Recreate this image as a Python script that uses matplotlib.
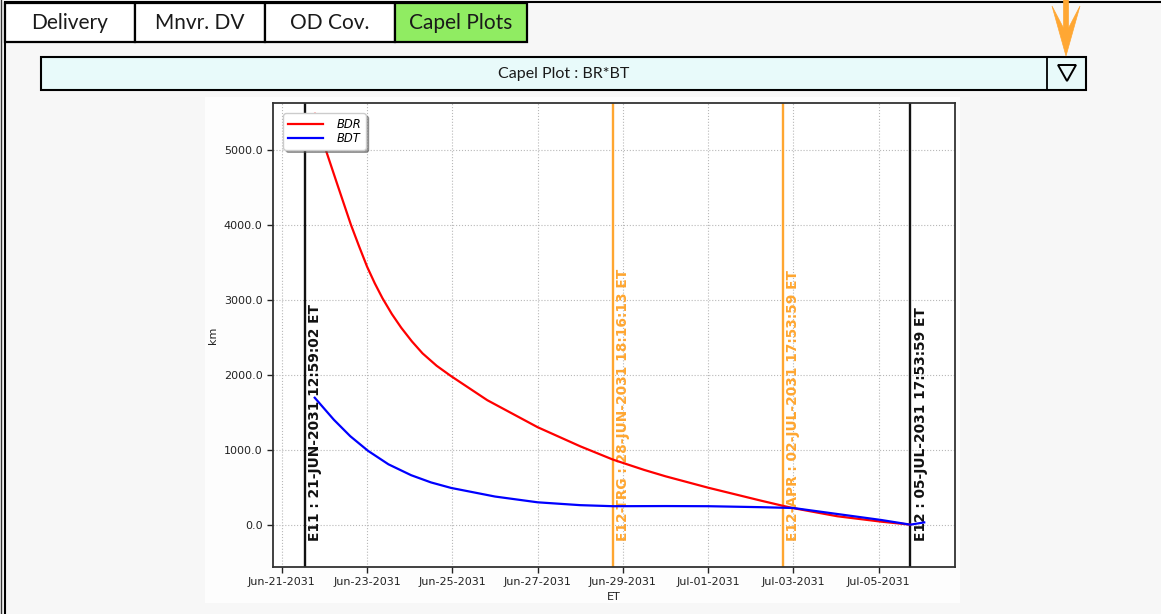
import matplotlib
matplotlib.use("Agg")
import matplotlib.pyplot as plt
import matplotlib.dates as mdates
import matplotlib.patches as mpatches
import matplotlib.lines as mlines
import matplotlib.transforms as mtransforms
import matplotlib.ticker as mticker
import pandas as pd

W, H = 1161, 614

# ---------------- data ----------------
tab_labels = ["Delivery", "Mnvr. DV", "OD Cov.", "Capel Plots"]
selector_title = "Capel Plot : BR*BT"

bdr_times = ["2031-06-21 18:29", "2031-06-22 00:43", "2031-06-22 07:12", "2031-06-22 14:53",
             "2031-06-22 19:26", "2031-06-23 00:00", "2031-06-23 04:19", "2031-06-23 08:38",
             "2031-06-23 13:55", "2031-06-23 19:12", "2031-06-24 01:12", "2031-06-24 07:12",
             "2031-06-24 15:07", "2031-06-24 23:02", "2031-06-25 19:41", "2031-06-27 00:00",
             "2031-06-28 00:00", "2031-06-28 18:29", "2031-06-29 12:00", "2031-06-30 00:00",
             "2031-07-01 00:00", "2031-07-02 05:46", "2031-07-02 17:46", "2031-07-03 00:00",
             "2031-07-04 00:43", "2031-07-05 01:26", "2031-07-05 17:53"]
bdr_values = [5480, 5000, 4540, 4000, 3715, 3440, 3219, 3021, 2810, 2627, 2445, 2285,
              2120, 1985, 1660, 1300, 1045, 867, 730, 645, 493, 320, 253, 220,
              112, 40, 0]

bdt_times = ["2031-06-21 18:30", "2031-06-22 05:15", "2031-06-22 14:30", "2031-06-23 00:30",
             "2031-06-23 12:00", "2031-06-24 00:45", "2031-06-24 12:00", "2031-06-24 23:15",
             "2031-06-26 00:00", "2031-06-27 00:00", "2031-06-28 00:00", "2031-06-28 18:30",
             "2031-06-30 00:00", "2031-07-01 00:00", "2031-07-02 05:45", "2031-07-03 00:00",
             "2031-07-04 00:45", "2031-07-05 01:30", "2031-07-05 17:53", "2031-07-06 01:40"]
bdt_values = [1693, 1400, 1180, 985, 805, 660, 563, 490, 375, 298, 260, 246,
              248, 246, 233, 222, 142, 62, 0, 30]

event_times = ["2031-06-21 12:59:02", "2031-06-28 18:16:13",
               "2031-07-02 17:53:59", "2031-07-05 17:53:59"]
event_labels = ["E11 : 21-JUN-2031 12:59:02 ET", "E12-TRG : 28-JUN-2031 18:16:13 ET",
                "E12-APR : 02-JUL-2031 17:53:59 ET", "E12 : 05-JUL-2031 17:53:59 ET"]
event_colors = ["#111111", "#ffa630", "#ffa630", "#111111"]

x_tick_dates = ["2031-06-21", "2031-06-23", "2031-06-25", "2031-06-27",
                "2031-06-29", "2031-07-01", "2031-07-03", "2031-07-05"]
y_tick_values = [0, 1000, 2000, 3000, 4000, 5000]
x_limits = ["2031-06-20 19:00", "2031-07-06 19:00"]
y_limits = [-565, 5625]

# ---------------- figure / UI ----------------
fig = plt.figure(figsize=(W / 100, H / 100), dpi=100, facecolor="#f7f7f7")


def fx(x):
    return x / W


def fy(y):
    return 1 - y / H


def rect(x0, y0, x1, y1, fc, ec="black", lw=1.5, z=1):
    r = mpatches.Rectangle((fx(x0), fy(y1)), fx(x1) - fx(x0), fy(y0) - fy(y1),
                           transform=fig.transFigure, facecolor=fc, edgecolor=ec,
                           linewidth=lw, zorder=z)
    fig.add_artist(r)
    return r


def poly(pts, fc, ec, lw=1.5, z=3, closed=True):
    p = mpatches.Polygon([(fx(a), fy(b)) for a, b in pts], closed=closed,
                         transform=fig.transFigure, facecolor=fc, edgecolor=ec,
                         linewidth=lw, zorder=z)
    fig.add_artist(p)


# chart image background (below the axes)
rect(205, 97, 960, 603, "#fdfdfd", ec="none", lw=0, z=-2)

# outer panel frame (top + left visible)
rect(5, 2, 1200, 700, "none", lw=1.5, z=2)
fig.add_artist(mlines.Line2D([fx(1), fx(1)], [0, 1], transform=fig.transFigure,
                             color="#333333", lw=1.0))

# tabs
tab_edges = [5, 135, 265, 395, 527]
for i, lab in enumerate(tab_labels):
    fc = "#90ec62" if i == len(tab_labels) - 1 else "white"
    rect(tab_edges[i], 3, tab_edges[i + 1], 42, fc, lw=1.6, z=3)
    fig.text(fx((tab_edges[i] + tab_edges[i + 1]) / 2), fy(23), lab,
             ha="center", va="center", fontsize=15, family="Lato",
             color="#1a1a1a", zorder=4)

# selector bar
rect(41, 57, 1086, 90, "#e8fafa", lw=1.5, z=3)
fig.add_artist(mlines.Line2D([fx(1047), fx(1047)], [fy(57), fy(90)],
                             transform=fig.transFigure, color="black", lw=1.3, zorder=4))
poly([(1058, 65), (1076, 65), (1067, 81)], "none", "black", lw=1.4, z=4)
fig.text(fx(564), fy(74), selector_title, ha="center", va="center",
         fontsize=11.5, family="Lato", color="#1a1a1a", zorder=4)

# orange pointer arrow
poly([(1063.5, -2), (1063.5, 28), (1052, 6), (1066, 56), (1080, 6), (1068.5, 28),
      (1068.5, -2)], "#ffa733", "#ffa733", lw=0.5, z=5)

# ---------------- chart ----------------
ax = fig.add_axes([fx(273), fy(567), fx(955) - fx(273), fy(103) - fy(567)])
ax.set_facecolor("white")

bdr_t = pd.to_datetime(bdr_times)
bdt_t = pd.to_datetime(bdt_times)
ev_t = pd.to_datetime(event_times)

blend = mtransforms.blended_transform_factory(ax.transData, ax.transAxes)
for t, lab, col in zip(ev_t, event_labels, event_colors):
    ax.axvline(t, color=col, lw=1.7, zorder=2)
    tr = blend + mtransforms.ScaledTranslation(2.5 / 72, 0, fig.dpi_scale_trans)
    ax.text(t, 0.057, lab, transform=tr, rotation=90, ha="left", va="bottom",
            fontsize=9.9, fontweight="bold", color=col, zorder=3)

ax.plot(bdr_t, bdr_values, color="red", lw=1.6, label="BDR", zorder=4)
ax.plot(bdt_t, bdt_values, color="blue", lw=1.6, label="BDT", zorder=4)

ax.set_xlim(pd.to_datetime(x_limits))
ax.set_ylim(y_limits)
ax.set_xticks(pd.to_datetime(x_tick_dates))
ax.xaxis.set_major_formatter(mdates.DateFormatter("%b-%d-%Y"))
ax.set_yticks(y_tick_values)
ax.yaxis.set_major_formatter(mticker.FormatStrFormatter("%.1f"))
ax.tick_params(labelsize=8, colors="#222222", length=4, width=1)
ax.grid(True, linestyle=":", color="#b8b8b8", lw=0.8)
ax.set_axisbelow(True)
for s in ax.spines.values():
    s.set_color("#333333")
    s.set_linewidth(1.3)
ax.set_xlabel("ET", fontsize=8, color="#222222", labelpad=3)
ax.set_ylabel("km", fontsize=8, color="#222222")

leg = ax.legend(loc="upper left", prop={"style": "italic", "size": 8.3},
                shadow=True, handlelength=3.0, handletextpad=1.2,
                labelspacing=0.08, borderpad=0.4, borderaxespad=0.9,
                framealpha=1, edgecolor="#cccccc")
leg.set_zorder(6)

fig.savefig("out.png", dpi=100, facecolor=fig.get_facecolor())
